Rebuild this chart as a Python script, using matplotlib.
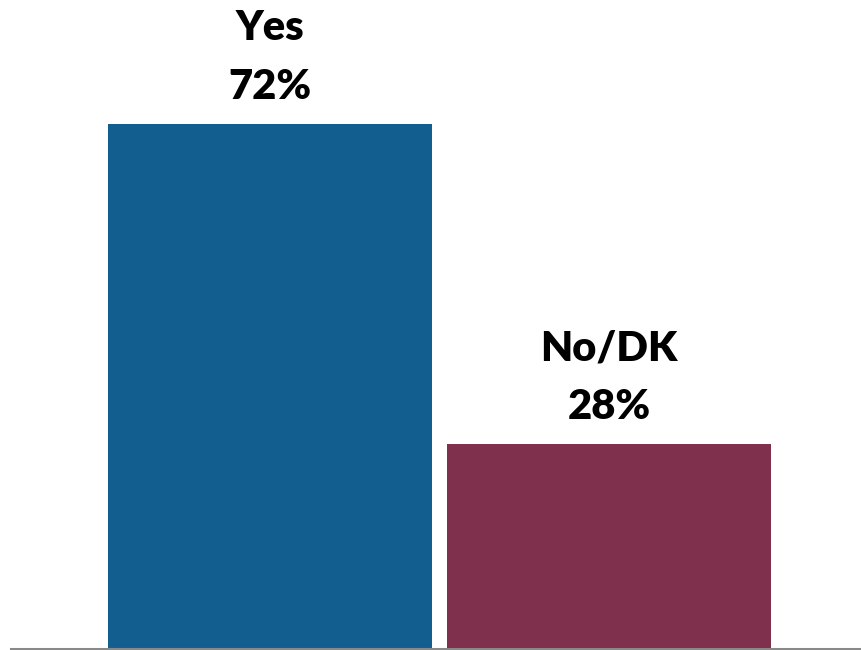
import matplotlib
matplotlib.use("Agg")
import matplotlib.pyplot as plt

categories = ["Yes", "No/DK"]
values = [72, 28]
colors = ["#125F8F", "#7F304D"]

W, H, DPI = 862, 650, 100
fig = plt.figure(figsize=(W / DPI, H / DPI), dpi=DPI)

px_per_unit = 524 / 72.0
base_px = 2
ax = fig.add_axes([0, base_px / H, 1, (H - base_px) / H])
ax.set_ylim(0, (H - base_px) / px_per_unit)

spacing = 339.0
x = [0, 1]
ax.set_xlim(-270 / spacing, 1 + (W - 609) / spacing)
bars = ax.bar(x, values, width=324 / spacing, color=colors, zorder=2)

for xi, cat, v in zip(x, categories, values):
    ax.annotate(f"{cat}\n{v}%", xy=(xi, v), xytext=(0, 13), textcoords="offset points",
                ha="center", va="bottom", fontsize=30, fontweight="heavy",
                family=["Lato", "DejaVu Sans"], linespacing=1.68, color="black")

for s in ax.spines.values():
    s.set_visible(False)
ax.set_xticks([])
ax.set_yticks([])

# baseline rule under the bars
fig.add_artist(plt.Line2D([11 / W, 1], [1.5 / H, 1.5 / H], color="#898989", lw=2.2,
                          transform=fig.transFigure, zorder=3))

fig.savefig("out.png", dpi=DPI)
